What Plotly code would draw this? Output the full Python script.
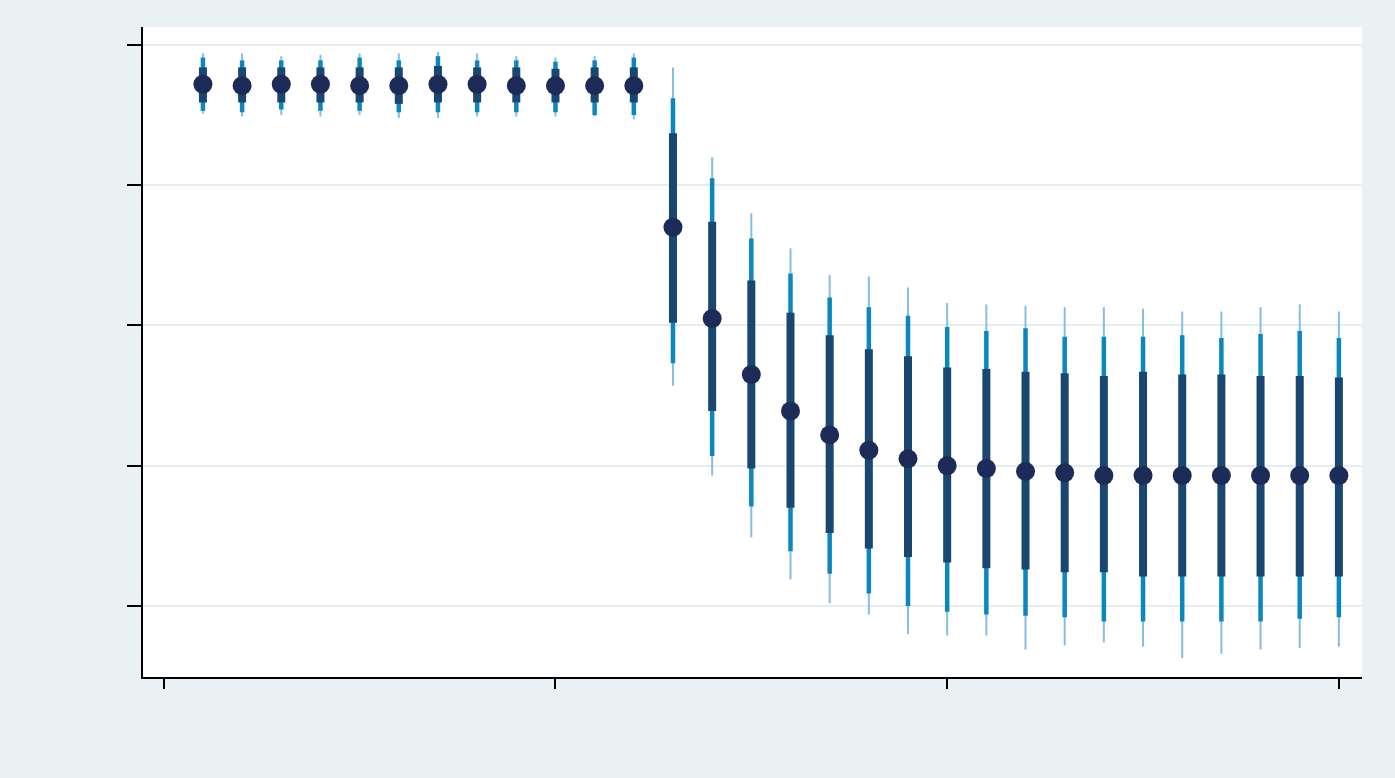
import plotly.graph_objects as go

# period index (x), 12 pre-periods and 18 post-periods
periods = list(range(1, 31))

# point estimates
estimate = [3.72, 3.71, 3.72, 3.72, 3.71, 3.71, 3.72, 3.72, 3.71, 3.71, 3.71, 3.71,
            2.70, 2.05, 1.65, 1.39, 1.22, 1.11, 1.05, 1.00, 0.98, 0.96, 0.95, 0.93,
            0.93, 0.93, 0.93, 0.93, 0.93, 0.93]

# inner (narrow) confidence interval - thick dark bar
ci_inner_lo = [3.59, 3.59, 3.59, 3.59, 3.59, 3.58, 3.59, 3.59, 3.59, 3.59, 3.59, 3.59,
               2.02, 1.39, 0.98, 0.70, 0.52, 0.41, 0.35, 0.31, 0.27, 0.26, 0.24, 0.24,
               0.21, 0.21, 0.21, 0.21, 0.21, 0.21]
ci_inner_hi = [3.84, 3.84, 3.84, 3.84, 3.84, 3.84, 3.85, 3.84, 3.84, 3.83, 3.84, 3.84,
               3.37, 2.74, 2.32, 2.09, 1.93, 1.83, 1.78, 1.70, 1.69, 1.67, 1.66, 1.64,
               1.67, 1.65, 1.65, 1.64, 1.64, 1.63]

# middle confidence interval - medium blue bar
ci_mid_lo = [3.53, 3.52, 3.54, 3.53, 3.53, 3.52, 3.52, 3.52, 3.52, 3.52, 3.50, 3.50,
             1.73, 1.07, 0.71, 0.39, 0.23, 0.09, 0.00, -0.04, -0.06, -0.07, -0.08, -0.11,
             -0.11, -0.11, -0.11, -0.11, -0.09, -0.08]
ci_mid_hi = [3.91, 3.89, 3.89, 3.89, 3.91, 3.89, 3.92, 3.89, 3.89, 3.88, 3.89, 3.91,
             3.62, 3.05, 2.62, 2.37, 2.20, 2.13, 2.07, 1.99, 1.96, 1.98, 1.92, 1.92,
             1.92, 1.93, 1.91, 1.94, 1.96, 1.91]

# outer (wide) confidence interval - thin light bar
ci_outer_lo = [3.51, 3.49, 3.50, 3.49, 3.50, 3.48, 3.48, 3.49, 3.49, 3.49, 3.49, 3.47,
               1.57, 0.93, 0.49, 0.19, 0.02, -0.06, -0.20, -0.21, -0.21, -0.31, -0.28, -0.26,
               -0.29, -0.37, -0.34, -0.31, -0.30, -0.29]
ci_outer_hi = [3.94, 3.94, 3.92, 3.93, 3.94, 3.94, 3.95, 3.94, 3.92, 3.91, 3.92, 3.94,
               3.84, 3.20, 2.80, 2.55, 2.36, 2.35, 2.27, 2.16, 2.15, 2.14, 2.13, 2.13,
               2.12, 2.10, 2.10, 2.13, 2.15, 2.10]

x_ticks = [0, 10, 20, 30]
y_ticks = [0, 1, 2, 3, 4]

BG = "#eaf1f3"
GRID = "#e4edf0"
C_LIGHT = "#86bde2"
C_MID = "#0b87bd"
C_DARK = "#1a476f"
C_MARK = "#1c2b57"


def ci_trace(lo, hi, color, thickness):
    return go.Scatter(
        x=periods, y=estimate, mode="markers",
        marker=dict(size=1, color="rgba(0,0,0,0)"),
        error_y=dict(
            type="data", symmetric=False,
            array=[h - e for h, e in zip(hi, estimate)],
            arrayminus=[e - l for e, l in zip(estimate, lo)],
            color=color, thickness=thickness, width=0,
        ),
        hoverinfo="skip", showlegend=False,
    )


fig = go.Figure()
fig.add_trace(ci_trace(ci_outer_lo, ci_outer_hi, C_LIGHT, 2))
fig.add_trace(ci_trace(ci_mid_lo, ci_mid_hi, C_MID, 4.5))
fig.add_trace(ci_trace(ci_inner_lo, ci_inner_hi, C_DARK, 8))
fig.add_trace(go.Scatter(
    x=periods, y=estimate, mode="markers",
    marker=dict(size=19, color=C_MARK, line=dict(width=0)),
    showlegend=False,
))

fig.update_layout(
    width=1395, height=778,
    paper_bgcolor=BG, plot_bgcolor="white",
    margin=dict(l=143, r=33, t=27, b=101),
    showlegend=False,
)
fig.update_xaxes(
    range=[-0.53, 30.59], tickvals=x_ticks, showticklabels=False,
    ticks="outside", ticklen=10, tickwidth=1.5, tickcolor="black",
    showline=True, linecolor="black", linewidth=1.5,
    showgrid=False, zeroline=False,
)
fig.update_yaxes(
    range=[-0.506, 4.128], tickvals=y_ticks, showticklabels=False,
    ticks="outside", ticklen=14, tickwidth=1.5, tickcolor="black",
    showline=True, linecolor="black", linewidth=1.5,
    showgrid=True, gridcolor=GRID, gridwidth=1.5, zeroline=False,
)

fig.write_html(
    "out.html",
    config={"displayModeBar": False},
    post_script="document.body.style.margin='0px';document.body.style.overflow='hidden';",
)
